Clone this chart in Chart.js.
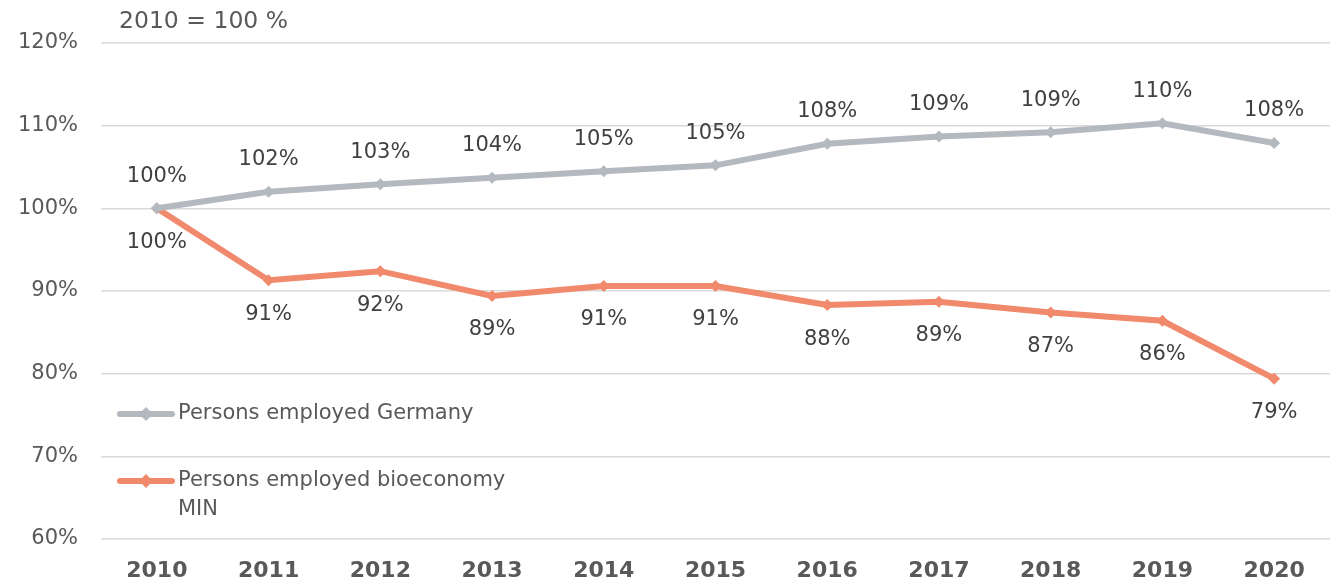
<!DOCTYPE html>
<html>
<head>
<meta charset="utf-8">
<script src="https://cdn.jsdelivr.net/npm/chart.js@4"></script>
<style>
  html, body { margin: 0; padding: 0; background: #fff; }
  #wrap { width: 1330px; height: 582px; position: relative; }
</style>
</head>
<body>
<div id="wrap"><canvas id="employChart"></canvas></div>
<script>
const years = ["2010", "2011", "2012", "2013", "2014", "2015", "2016", "2017", "2018", "2019", "2020"]
const germany = [100, 102.0, 102.9, 103.7, 104.5, 105.2, 107.8, 108.7, 109.2, 110.3, 107.9]
const bioeconomy = [100, 91.3, 92.4, 89.4, 90.6, 90.6, 88.3, 88.7, 87.4, 86.4, 79.4]
const seriesNames = ["Persons employed Germany", ["Persons employed bioeconomy", "MIN"]]
const yTicks = [60, 70, 80, 90, 100, 110, 120]
const subtitle = "2010 = 100 %"

const greyColor = "#b3b9bf"
const orangeColor = "#f18a6c"
const fontFamily = "'DejaVu Sans', Verdana, sans-serif"

// draws the percent labels above (grey) and below (orange) each point
const pointLabels = {
  id: "pointLabels",
  afterDatasetsDraw(chart) {
    const ctx = chart.ctx
    ctx.save()
    ctx.font = "21px " + fontFamily
    ctx.fillStyle = "#404040"
    ctx.textAlign = "center"
    ctx.textBaseline = "middle"
    chart.data.datasets.forEach((ds, i) => {
      const meta = chart.getDatasetMeta(i)
      meta.data.forEach((pt, j) => {
        const txt = Math.round(ds.data[j]) + "%"
        const y = i === 0 ? pt.y - 32 : pt.y + 34
        ctx.fillText(txt, pt.x, y)
      })
    })
    ctx.restore()
  }
}

// subtitle and the legend inside the plot
const extras = {
  id: "extras",
  afterDraw(chart) {
    const ctx = chart.ctx
    ctx.save()
    ctx.font = "23.5px " + fontFamily
    ctx.fillStyle = "#595959"
    ctx.textBaseline = "middle"
    ctx.textAlign = "left"
    ctx.fillText(subtitle, 119, 22)

    const items = [
      { y: 414, color: greyColor, lines: [seriesNames[0]] },
      { y: 481, color: orangeColor, lines: seriesNames[1] }
    ]
    items.forEach(it => {
      ctx.strokeStyle = it.color
      ctx.lineWidth = 6
      ctx.lineCap = "round"
      ctx.beginPath()
      ctx.moveTo(120, it.y)
      ctx.lineTo(172, it.y)
      ctx.stroke()
      ctx.fillStyle = it.color
      ctx.beginPath()
      ctx.moveTo(146, it.y - 7)
      ctx.lineTo(153, it.y)
      ctx.lineTo(146, it.y + 7)
      ctx.lineTo(139, it.y)
      ctx.closePath()
      ctx.fill()
      ctx.font = "21px " + fontFamily
      ctx.fillStyle = "#595959"
      it.lines.forEach((ln, k) => {
        ctx.fillText(ln, 178, it.y + k * 29)
      })
    })
    ctx.restore()
  }
}

const myChart = new Chart(document.getElementById("employChart"), {
  type: "line",
  data: {
    labels: years,
    datasets: [{
      label: seriesNames[0],
      data: germany,
      borderColor: greyColor,
      backgroundColor: greyColor,
      borderWidth: 6,
      pointStyle: "rectRot",
      pointRadius: 6,
      pointBorderWidth: 0,
      tension: 0
    }, {
      label: seriesNames[1].join(" "),
      data: bioeconomy,
      borderColor: orangeColor,
      backgroundColor: orangeColor,
      borderWidth: 6,
      pointStyle: "rectRot",
      pointRadius: 6,
      pointBorderWidth: 0,
      tension: 0
    }]
  },
  options: {
    responsive: true,
    maintainAspectRatio: false,
    animation: false,
    layout: { autoPadding: false, padding: { top: 43, right: 0, bottom: 0, left: 0 } },
    plugins: {
      legend: { display: false },
      tooltip: { enabled: false }
    },
    scales: {
      x: {
        offset: true,
        grid: { display: false, drawTicks: false },
        border: { display: false },
        ticks: {
          padding: 19,
          color: "#595959",
          font: { family: fontFamily, size: 22, weight: "bold" }
        },
        afterFit: (scale) => {
          scale.height = 43
          scale.paddingLeft = 0
          scale.paddingRight = 0
        }
      },
      y: {
        min: yTicks[0],
        max: yTicks[yTicks.length - 1],
        afterBuildTicks: (scale) => { scale.ticks = yTicks.map(v => ({ value: v })) },
        grid: { color: "#d9d9d9", lineWidth: 1.5, drawTicks: false },
        border: { display: false },
        ticks: {
          padding: 23,
          color: "#595959",
          font: { family: fontFamily, size: 21 },
          callback: (v) => v + "%"
        },
        afterFit: (scale) => { scale.width = 101 }
      }
    }
  },
  plugins: [pointLabels, extras]
})
</script>
</body>
</html>
